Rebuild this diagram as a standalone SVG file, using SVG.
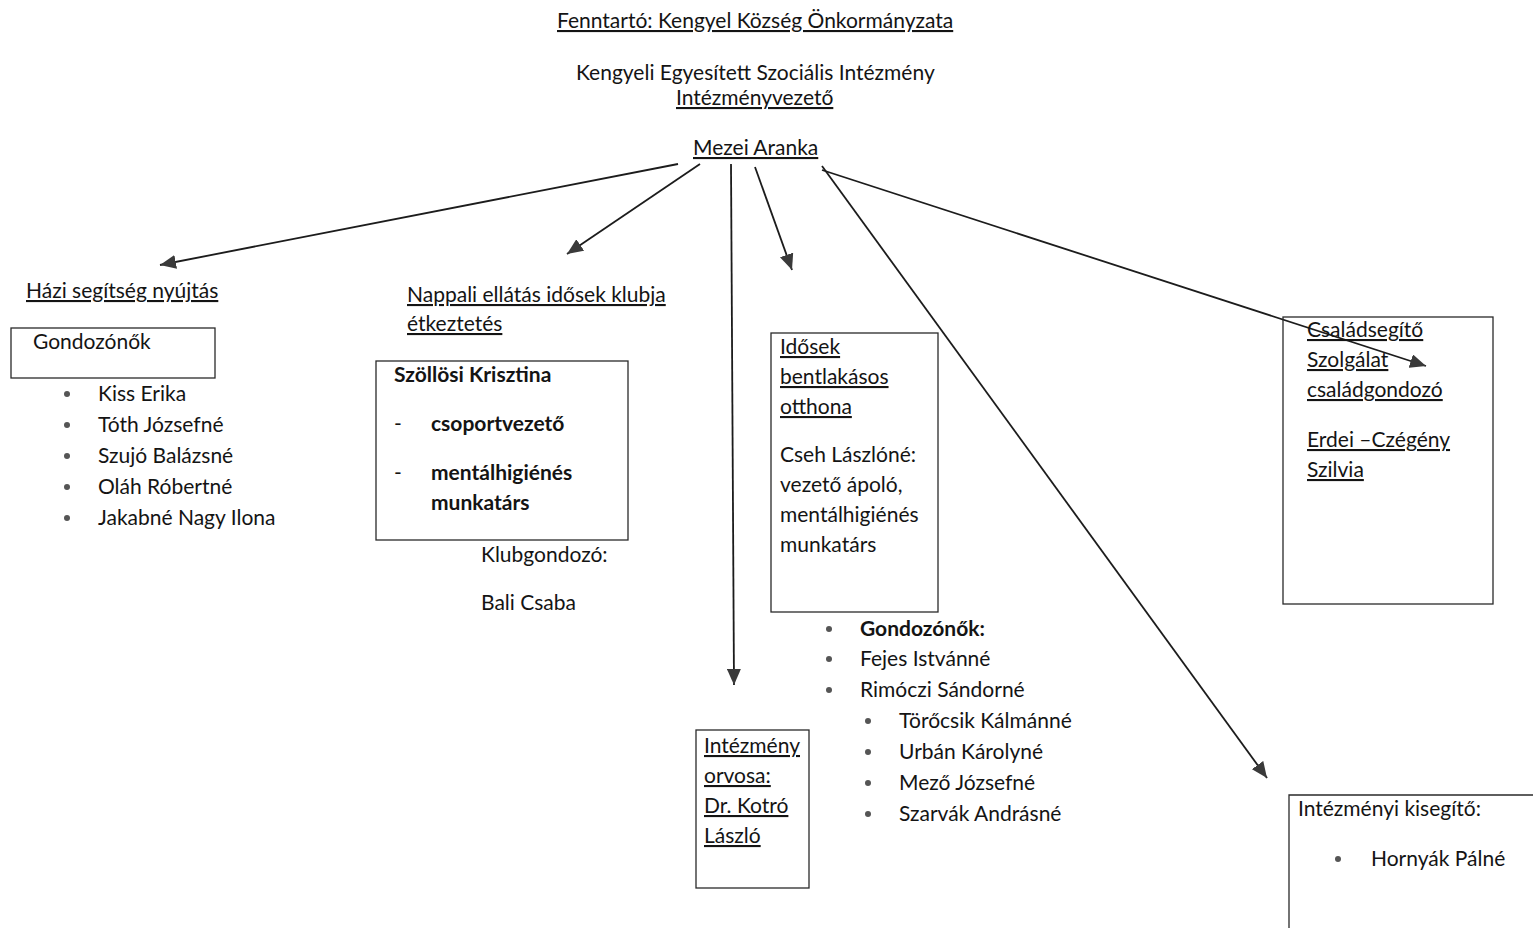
<svg xmlns="http://www.w3.org/2000/svg" width="1533" height="928" viewBox="0 0 1533 928">
<style>
text{font-family:Lato,"Open Sans","Liberation Sans",sans-serif;font-size:21px;fill:#141414}
.u{text-decoration:underline}
.b{font-weight:bold}
.box{fill:none;stroke:#2a2a2a;stroke-width:1.3}
.con{stroke:#1c1c1c;stroke-width:1.8;fill:none;marker-end:url(#ah)}
.dot{fill:#555}
</style>
<defs>
<marker id="ah" markerUnits="userSpaceOnUse" markerWidth="18" markerHeight="14" refX="16" refY="7" orient="auto">
<path d="M0,0 L16,7 L0,14 Z" fill="#3a3a3a"/>
</marker>
</defs>
<rect width="1533" height="928" fill="#fff"/>
<g id="header">
<text x="557" y="28" class="u">Fenntartó: Kengyel Község Önkormányzata</text>
<text x="576" y="80">Kengyeli Egyesített Szociális Intézmény</text>
<text x="676" y="105" class="u">Intézményvezető</text>
</g>
<g id="leader">
<text x="693" y="155" class="u">Mezei Aranka</text>
</g>
<g id="connectors">
<line class="con" x1="678" y1="164" x2="160" y2="265"/>
<line class="con" x1="700" y1="164" x2="567" y2="254"/>
<line class="con" x1="731" y1="164" x2="734" y2="685"/>
<line class="con" x1="755" y1="167" x2="792" y2="270"/>
<line class="con" x1="822" y1="166" x2="1267" y2="778"/>
<line class="con" x1="822" y1="170" x2="1426" y2="366"/>
</g>
<g id="hazi">
<text x="26" y="298" class="u">Házi segítség nyújtás</text>
<rect class="box" x="11" y="328" width="204" height="50"/>
<text x="33" y="349">Gondozónők</text>
<circle class="dot" cx="67" cy="394" r="3"/><text x="98" y="401">Kiss Erika</text>
<circle class="dot" cx="67" cy="425" r="3"/><text x="98" y="432">Tóth Józsefné</text>
<circle class="dot" cx="67" cy="456" r="3"/><text x="98" y="463">Szujó Balázsné</text>
<circle class="dot" cx="67" cy="487" r="3"/><text x="98" y="494">Oláh Róbertné</text>
<circle class="dot" cx="67" cy="518" r="3"/><text x="98" y="525">Jakabné Nagy Ilona</text>
</g>
<g id="nappali">
<text x="407" y="302" class="u">Nappali ellátás idősek klubja</text>
<text x="407" y="331" class="u">étkeztetés</text>
<rect class="box" x="376" y="361" width="252" height="179"/>
<text x="394" y="382" class="b">Szöllösi Krisztina</text>
<text x="394" y="431">-</text><text x="431" y="431" class="b">csoportvezető</text>
<text x="394" y="480">-</text><text x="431" y="480" class="b">mentálhigiénés</text>
<text x="431" y="510" class="b">munkatárs</text>
<text x="481" y="562">Klubgondozó:</text>
<text x="481" y="610">Bali Csaba</text>
</g>
<g id="idosek">
<rect class="box" x="771" y="333" width="167" height="279"/>
<text x="780" y="354" class="u">Idősek</text>
<text x="780" y="384" class="u">bentlakásos</text>
<text x="780" y="414" class="u">otthona</text>
<text x="780" y="462">Cseh Lászlóné:</text>
<text x="780" y="492">vezető ápoló,</text>
<text x="780" y="522">mentálhigiénés</text>
<text x="780" y="552">munkatárs</text>
<circle class="dot" cx="829" cy="629" r="3"/><text x="860" y="636" class="b">Gondozónők:</text>
<circle class="dot" cx="829" cy="659" r="3"/><text x="860" y="666">Fejes Istvánné</text>
<circle class="dot" cx="829" cy="690" r="3"/><text x="860" y="697">Rimóczi Sándorné</text>
<circle class="dot" cx="868" cy="721" r="3"/><text x="899" y="728">Törőcsik Kálmánné</text>
<circle class="dot" cx="868" cy="752" r="3"/><text x="899" y="759">Urbán Károlyné</text>
<circle class="dot" cx="868" cy="783" r="3"/><text x="899" y="790">Mező Józsefné</text>
<circle class="dot" cx="868" cy="814" r="3"/><text x="899" y="821">Szarvák Andrásné</text>
</g>
<g id="orvos">
<rect class="box" x="696" y="730" width="113" height="158"/>
<text x="704" y="753" class="u">Intézmény</text>
<text x="704" y="783" class="u">orvosa:</text>
<text x="704" y="813" class="u">Dr. Kotró</text>
<text x="704" y="843" class="u">László</text>
</g>
<g id="csaladsegito">
<rect class="box" x="1283" y="317" width="210" height="287"/>
<text x="1307" y="337" class="u">Családsegítő</text>
<text x="1307" y="367" class="u">Szolgálat</text>
<text x="1307" y="397" class="u">családgondozó</text>
<text x="1307" y="447" class="u">Erdei –Czégény</text>
<text x="1307" y="477" class="u">Szilvia</text>
</g>
<g id="kisegito">
<path class="box" d="M1289,940 L1289,795 L1545,795"/>
<text x="1298" y="816">Intézményi kisegítő:</text>
<circle class="dot" cx="1338" cy="859" r="3"/><text x="1371" y="866">Hornyák Pálné</text>
</g>
</svg>
